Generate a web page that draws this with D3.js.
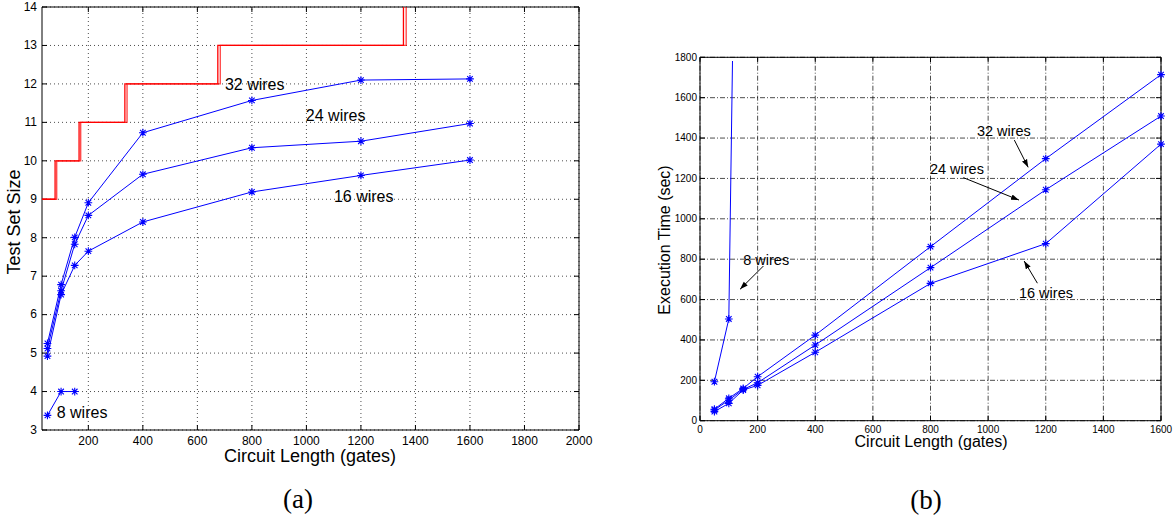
<!DOCTYPE html>
<html>
<head>
<meta charset="utf-8">
<script src="https://cdn.jsdelivr.net/npm/d3@7"></script>
<style>
  body { margin: 0; background: #fff; }
  svg { display: block; font-family: "Liberation Sans", Arial, sans-serif; }
</style>
</head>
<body>
<svg id="viz" width="1176" height="518"></svg>
<script>
// circuit lengths shared by both panels
let gates = [50, 100, 150, 200, 400, 800, 1200, 1600];

// (a) test set size
let size8 = [3.38, 4.0, 4.0];
let size16 = [4.92, 6.52, 7.28, 7.65, 8.41, 9.19, 9.62, 10.02];
let size24 = [5.12, 6.62, 7.83, 8.58, 9.65, 10.34, 10.51, 10.97];
let size32 = [5.25, 6.78, 8.01, 8.91, 10.73, 11.57, 12.10, 12.13];

// red bound steps (drawn twice, slightly offset, as in the original)
let boundX = [30, 78, 166, 334, 675, 1356];
let boundX2 = [30, 84, 172, 342, 684, 1366];
let boundY = [9, 10, 11, 12, 13, 14];

// (b) execution time (sec)
let gates8 = [50, 100, 150];
let time8 = [193, 504, 5500];
let time16 = [45, 86, 152, 175, 339, 680, 877, 1370];
let time24 = [53, 102, 155, 188, 375, 758, 1144, 1509];
let time32 = [57, 111, 160, 218, 424, 862, 1298, 1714];

let ticksAx = [200, 400, 600, 800, 1000, 1200, 1400, 1600, 1800, 2000];
let ticksAy = [3, 4, 5, 6, 7, 8, 9, 10, 11, 12, 13, 14];
let ticksBx = [0, 200, 400, 600, 800, 1000, 1200, 1400, 1600];
let ticksBy = [0, 200, 400, 600, 800, 1000, 1200, 1400, 1600, 1800];

let labelsA = [
	{text: "32 wires", x: 701, y: 11.84},
	{text: "24 wires", x: 998, y: 11.04},
	{text: "16 wires", x: 1101, y: 8.94},
	{text: "8 wires", x: 84, y: 3.31}
];
let notesB = [
	{text: "32 wires", x: 961, y: 1409, fx: 1091, fy: 1390, tx: 1139, ty: 1255},
	{text: "24 wires", x: 798, y: 1222, fx: 914, fy: 1204, tx: 1107, ty: 1093},
	{text: "16 wires", x: 1107, y: 609, fx: 1171, fy: 681, tx: 1125, ty: 791},
	{text: "8 wires", x: 150, y: 771, fx: 220, fy: 766, tx: 139, ty: 651}
];

const svg = d3.select("#viz");
const blue = "#0000ff";
const fmt = d3.format("d");

// MATLAB style '*' marker: plus + cross
const star = {
	draw(ctx, size) {
		let r = Math.sqrt(size) / 2;
		let d = r * 0.72;
		ctx.moveTo(-r, 0); ctx.lineTo(r, 0);
		ctx.moveTo(0, -r); ctx.lineTo(0, r);
		ctx.moveTo(-d, -d); ctx.lineTo(d, d);
		ctx.moveTo(-d, d); ctx.lineTo(d, -d);
	}
};

function drawFrame(g, x, y, xt, yt, gridDash, fontSize, padX, padY) {
	let [x0, x1] = x.range();
	let [y0, y1] = y.range();

	// grid
	g.append("g").attr("transform", `translate(0,${y0})`)
		.call(d3.axisBottom(x).offset(0).tickValues(xt).tickSize(-(y0 - y1)).tickFormat(""))
		.call(a => a.select(".domain").remove())
		.selectAll("line").attr("stroke", "#000").attr("stroke-width", 0.7).attr("stroke-dasharray", gridDash);
	g.append("g").attr("transform", `translate(${x0},0)`)
		.call(d3.axisLeft(y).offset(0).tickValues(yt).tickSize(-(x1 - x0)).tickFormat(""))
		.call(a => a.select(".domain").remove())
		.selectAll("line").attr("stroke", "#000").attr("stroke-width", 0.7).attr("stroke-dasharray", gridDash);

	// axes with inward ticks
	g.append("g").attr("transform", `translate(0,${y0})`)
		.call(d3.axisBottom(x).offset(0).tickValues(xt).tickFormat(fmt).tickSizeInner(-5).tickSizeOuter(0).tickPadding(padX));
	g.append("g").attr("transform", `translate(${x0},0)`)
		.call(d3.axisLeft(y).offset(0).tickValues(yt).tickFormat(fmt).tickSizeInner(-5).tickSizeOuter(0).tickPadding(padY));
	g.append("g").attr("transform", `translate(0,${y1})`)
		.call(d3.axisTop(x).offset(0).tickValues(xt).tickSizeInner(-5).tickSizeOuter(0).tickFormat(""));
	g.append("g").attr("transform", `translate(${x1},0)`)
		.call(d3.axisRight(y).offset(0).tickValues(yt).tickSizeInner(-5).tickSizeOuter(0).tickFormat(""));

	g.selectAll(".domain").attr("stroke", "#000").attr("stroke-width", 1);
	g.selectAll(".tick text").attr("font-size", fontSize).attr("fill", "#000")
		.attr("font-family", "Liberation Sans, Arial, sans-serif");
}

function drawSeries(g, x, y, xs, ys, clipId) {
	let pts = xs.map((v, i) => [v, ys[i]]);
	g.append("path")
		.datum(pts)
		.attr("clip-path", clipId ? `url(#${clipId})` : null)
		.attr("fill", "none").attr("stroke", blue).attr("stroke-width", 1)
		.attr("d", d3.line().x(d => x(d[0])).y(d => y(d[1])));
	let [ya, yb] = y.domain();
	g.selectAll(null)
		.data(pts.filter(d => d[1] >= ya && d[1] <= yb))
		.enter()
		.append("path")
		.attr("transform", d => `translate(${x(d[0])},${y(d[1])})`)
		.attr("d", d3.symbol().type(star).size(60))
		.attr("fill", "none").attr("stroke", blue).attr("stroke-width", 1.1);
}

// ---------- panel (a) ----------
let xA = d3.scaleLinear([30, 2000], [42, 579]);
let yA = d3.scaleLinear([3, 14], [430, 7]);
let gA = svg.append("g");
drawFrame(gA, xA, yA, ticksAx, ticksAy, "1,3", 12, 6, 5);

let step = d3.line().curve(d3.curveStepAfter).x(d => xA(d[0])).y(d => yA(d[1]));
[boundX, boundX2].forEach((bx, k) => {
	gA.append("path")
		.datum(bx.map((v, i) => [v, boundY[i]]))
		.attr("fill", "none")
		.attr("stroke", "#ff0000")
		.attr("stroke-opacity", k ? 0.75 : 1)
		.attr("stroke-width", 1.3)
		.attr("d", step);
});

drawSeries(gA, xA, yA, gates, size32);
drawSeries(gA, xA, yA, gates, size24);
drawSeries(gA, xA, yA, gates, size16);
drawSeries(gA, xA, yA, gates.slice(0, 3), size8);

gA.selectAll(".lbl")
	.data(labelsA)
	.enter()
	.append("text")
	.attr("x", d => xA(d.x)).attr("y", d => yA(d.y))
	.attr("font-size", 16)
	.text(d => d.text);

gA.append("text")
	.attr("x", 310).attr("y", 462)
	.attr("text-anchor", "middle").attr("font-size", 18)
	.text("Circuit Length (gates)");
gA.append("text")
	.attr("transform", "translate(20,222) rotate(-90)")
	.attr("text-anchor", "middle").attr("font-size", 18)
	.text("Test Set Size");
gA.append("text")
	.attr("x", 298).attr("y", 508)
	.attr("text-anchor", "middle").attr("font-size", 27)
	.attr("font-family", "Liberation Serif, Times New Roman, serif")
	.text("(a)");

// ---------- panel (b) ----------
let xB = d3.scaleLinear([0, 1600], [700, 1161]);
let yB = d3.scaleLinear([0, 1800], [420.7, 57.3]);
let gB = svg.append("g");

svg.append("defs").append("clipPath").attr("id", "clipB")
	.append("rect")
	.attr("x", 700).attr("y", 61).attr("width", 461).attr("height", 359.7);

drawFrame(gB, xB, yB, ticksBx, ticksBy, "5,2,1,2", 10, 5, 3);

drawSeries(gB, xB, yB, gates, time32, "clipB");
drawSeries(gB, xB, yB, gates, time24, "clipB");
drawSeries(gB, xB, yB, gates, time16, "clipB");
drawSeries(gB, xB, yB, gates8, time8, "clipB");

svg.select("defs").append("marker")
	.attr("id", "arrow")
	.attr("viewBox", "0 0 10 10")
	.attr("refX", 10).attr("refY", 5)
	.attr("markerWidth", 8).attr("markerHeight", 8)
	.attr("markerUnits", "userSpaceOnUse")
	.attr("orient", "auto")
	.append("path")
	.attr("d", "M0,1.5L10,5L0,8.5Z")
	.attr("fill", "#000");

let notes = gB.selectAll(".note").data(notesB).enter().append("g");
notes.append("line")
	.attr("x1", d => xB(d.fx)).attr("y1", d => yB(d.fy))
	.attr("x2", d => xB(d.tx)).attr("y2", d => yB(d.ty))
	.attr("stroke", "#000").attr("stroke-width", 1)
	.attr("marker-end", "url(#arrow)");
notes.append("text")
	.attr("x", d => xB(d.x)).attr("y", d => yB(d.y))
	.attr("font-size", 14.5)
	.text(d => d.text);

gB.append("text")
	.attr("x", 931).attr("y", 447)
	.attr("text-anchor", "middle").attr("font-size", 16)
	.text("Circuit Length (gates)");
gB.append("text")
	.attr("transform", "translate(670,240) rotate(-90)")
	.attr("text-anchor", "middle").attr("font-size", 16)
	.text("Execution Time (sec)");
gB.append("text")
	.attr("x", 926).attr("y", 509)
	.attr("text-anchor", "middle").attr("font-size", 27)
	.attr("font-family", "Liberation Serif, Times New Roman, serif")
	.text("(b)");
</script>
</body>
</html>
